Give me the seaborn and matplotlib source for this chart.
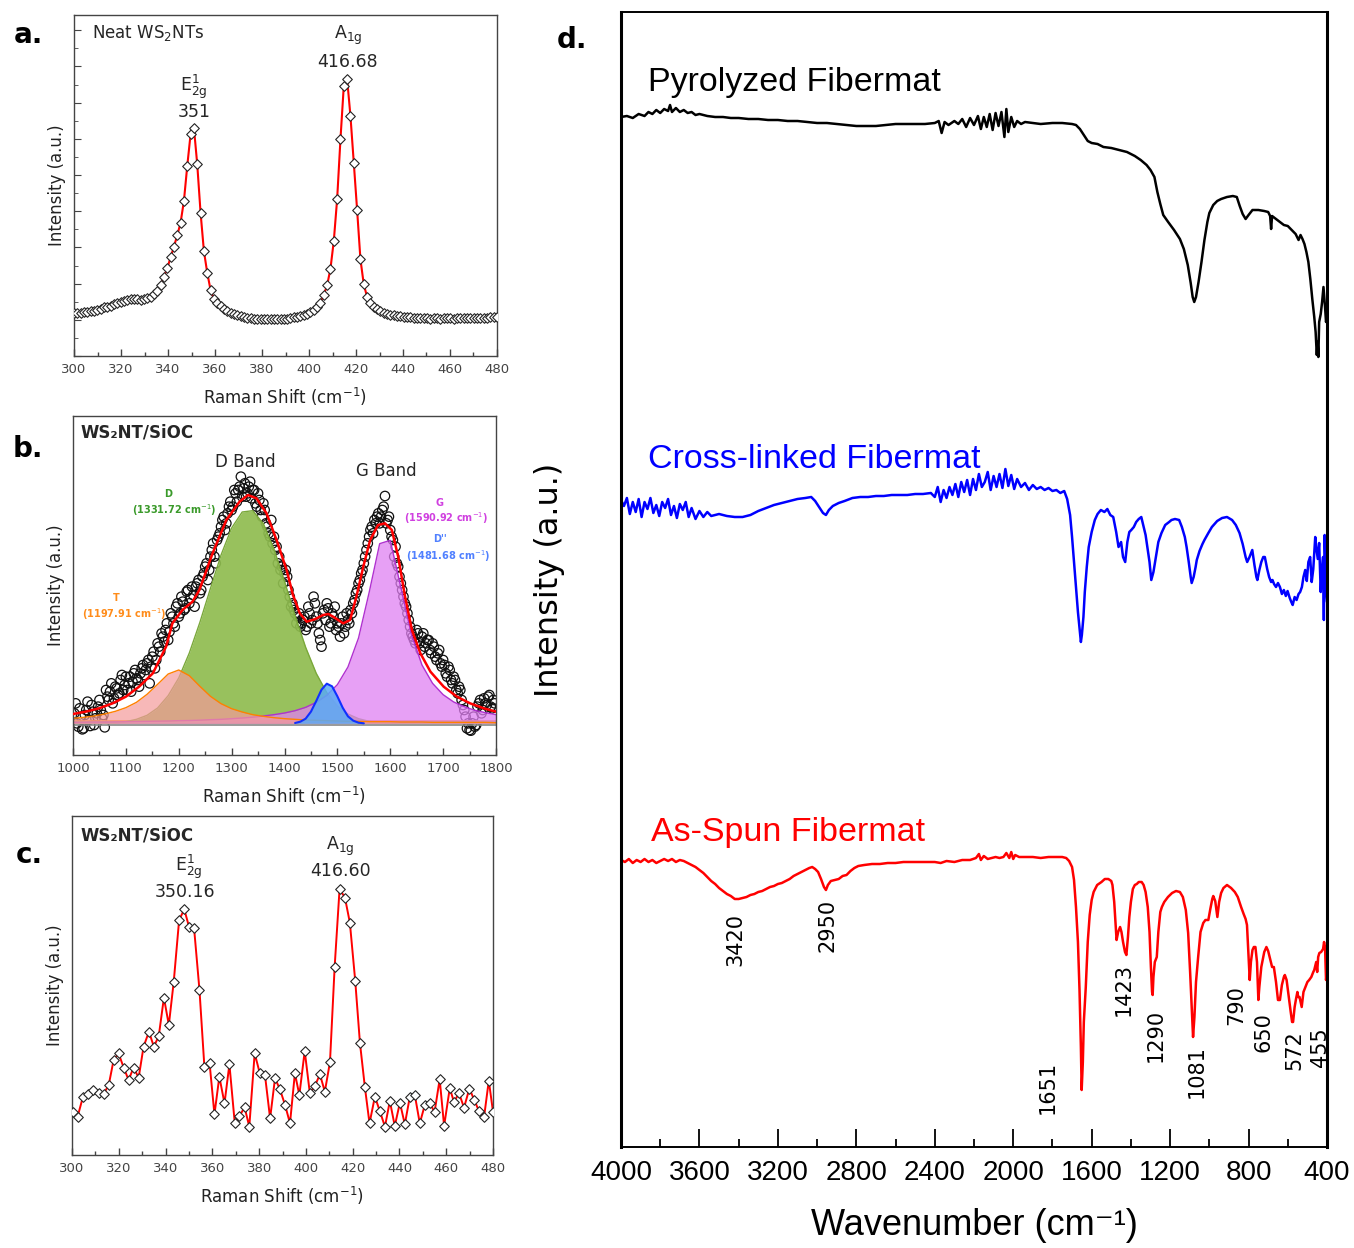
import numpy as np
import matplotlib
matplotlib.use("Agg")
import matplotlib.pyplot as plt
from matplotlib.ticker import MultipleLocator
import seaborn as sns

sns.set_style("ticks")
plt.rcParams['font.family'] = ['DejaVu Sans']
plt.rcParams['mathtext.fontset'] = 'dejavusans'
ARIAL = ['Liberation Sans', 'DejaVu Sans']

# ---------------- panel a: neat WS2NTs raman ----------------
a_shift = np.linspace(300, 480, 128)
a_int = [128, 129, 130, 131, 133, 135, 136, 138, 142, 146,
         148, 151, 155, 159, 162, 164, 167, 170, 172, 170,
         169, 171, 173, 178, 185, 195, 212, 238, 263, 296,
         328, 362, 400, 465, 570, 665, 685, 575, 430, 315,
         250, 198, 172, 160, 150, 142, 135, 130, 126, 122,
         119, 117, 114, 113, 112, 111, 110, 111, 111, 110,
         110, 111, 111, 112, 112, 114, 116, 118, 120, 123,
         127, 132, 139, 147, 160, 184, 212, 262, 345, 470,
         650, 810, 831, 720, 580, 438, 290, 215, 177, 158,
         147, 140, 134, 129, 126, 124, 122, 120, 119, 118,
         117, 116, 115, 114, 113, 113, 113, 112, 113, 113,
         112, 113, 113, 113, 112, 113, 113, 113, 114, 113,
         113, 114, 114, 115, 115, 116, 117, 118]

# ---------------- panel b: WS2NT/SiOC D and G bands ----------------
b_shift = np.arange(1005, 1800, 5)
b_int = [60, -10, 20, -15, 40, 10, 55, -5, 30, 70,
         15, -12, 80, 95, 60, 110, 85, 130, 100, 140,
         120, 95, 150, 135, 110, 165, 145, 180, 120, 200,
         165, 240, 215, 260, 280, 250, 330, 300, 350, 320,
         380, 340, 395, 360, 410, 350, 420, 390, 440, 470,
         430, 500, 540, 480, 560, 590, 620, 600, 650, 640,
         700, 665, 710, 680, 720, 690, 725, 700, 660, 690,
         640, 660, 600, 570, 610, 560, 530, 500, 470, 450,
         440, 380, 360, 330, 320, 290, 310, 280, 350, 300,
         380, 320, 270, 230, 340, 360, 290, 330, 350, 300,
         260, 320, 290, 310, 340, 360, 390, 420, 450, 480,
         520, 560, 590, 610, 620, 600, 640, 682, 610, 580,
         550, 530, 470, 420, 380, 350, 310, 270, 250, 280,
         240, 260, 230, 250, 220, 240, 200, 210, 180, 190,
         150, 170, 130, 140, 100, 110, 70, 40, -15, -20,
         0, -10, 50, 70, 40, 60, 80, 50, 70]
b_shift2 = np.arange(1002.5, 1800, 5)
b_int2 = [30, 0, 45, -18, 25, 65, -8, 35, 15, 50,
          40, 25, 100, 70, 120, 75, 105, 90, 145, 115,
          100, 140, 125, 160, 130, 150, 175, 160, 190, 170,
          215, 190, 230, 270, 245, 300, 275, 320, 290, 360,
          330, 365, 345, 400, 375, 385, 410, 430, 400, 450,
          480, 460, 520, 500, 550, 570, 610, 580, 630, 665,
          650, 690, 700, 740, 705, 680, 710, 675, 700, 650,
          670, 620, 640, 590, 560, 540, 520, 480, 460, 420,
          460, 400, 350, 340, 300, 330, 300, 320, 290, 330,
          310, 360, 300, 250, 330, 310, 345, 300, 320, 280,
          290, 300, 270, 330, 300, 330, 370, 400, 430, 460,
          500, 540, 580, 570, 600, 630, 620, 650, 600, 620,
          560, 500, 480, 440, 400, 360, 330, 290, 260, 240,
          270, 220, 270, 240, 250, 210, 230, 190, 220, 170,
          175, 140, 160, 120, 130, 90, 100, 55, 20, 0,
          -22, 20, -5, 60, 30, 75, 55, 85, 45, 60]

comp_shift = np.arange(1000, 1801, 20)
comp_T = [15, 18, 22, 28, 36, 47, 63, 87, 117, 148, 160, 143, 111, 81, 59, 44, 34, 26, 21, 17,
          14, 12, 10, 9, 8, 7, 6, 6, 5, 5, 5, 4, 4, 4, 3, 3, 3, 3, 3, 3, 2]
comp_D = [0, 0, 0, 0, 0, 5, 12, 24, 46, 83, 136, 211, 303, 405, 505, 586, 634, 638, 599, 523,
          426, 323, 228, 150, 92, 52, 28, 14, 6, 3, 1, 0, 0, 0, 0, 0, 0, 0, 0, 0, 0]
comp_G = [3, 3.5, 4, 4, 4.5, 5, 5.5, 6, 6.5, 7, 8, 8.5, 9.5, 11, 12, 14, 16, 18.5, 22, 26,
          31, 38, 48, 63, 84, 116, 169, 256, 392, 539, 549, 408, 267, 175, 120, 86, 64, 50, 39, 32, 26]
dpp_shift = np.arange(1420, 1551, 10)
comp_Dpp = [1, 5, 14, 35, 67, 101, 119, 111, 81, 47, 21, 8, 2, 0]

b_fit = [(1000, 28), (1024, 35), (1049, 45), (1075, 60), (1100, 80), (1125, 110), (1151, 150),
         (1176, 230), (1188, 300), (1207, 340), (1226, 365), (1239, 400), (1264, 510), (1290, 610),
         (1315, 665), (1331, 685), (1347, 675), (1366, 630), (1385, 550), (1404, 460), (1416, 385),
         (1429, 330), (1442, 305), (1457, 312), (1473, 325), (1483, 328), (1492, 320), (1511, 300),
         (1524, 310), (1536, 380), (1549, 470), (1562, 550), (1577, 595), (1590, 600), (1603, 580),
         (1615, 500), (1628, 380), (1641, 280), (1657, 210), (1676, 155), (1701, 110), (1726, 80),
         (1751, 60), (1777, 45), (1800, 35)]

# ---------------- panel c: WS2NT/SiOC raman ----------------
c_pts = [(300.4, 130), (302.4, 115), (304.7, 175), (306.8, 182), (309.0, 195), (311.4, 185),
         (313.5, 183), (315.7, 210), (317.8, 285), (319.9, 305), (322.1, 262), (324.2, 225),
         (326.3, 262), (328.5, 232), (330.6, 325), (332.9, 370), (335.0, 325), (337.1, 357),
         (339.3, 472), (341.4, 390), (343.5, 520), (345.8, 705), (348.0, 737), (350.1, 683),
         (352.2, 680), (354.5, 495), (356.6, 265), (358.8, 277), (360.9, 122), (363.0, 235),
         (365.2, 155), (367.3, 272), (369.6, 95), (371.6, 117), (373.8, 143), (375.8, 85),
         (378.1, 305), (380.3, 245), (382.5, 240), (384.7, 110), (386.8, 230), (388.9, 197),
         (391.1, 150), (393.2, 95), (395.3, 245), (397.2, 180), (399.5, 312), (401.7, 185),
         (403.9, 208), (406.0, 242), (408.1, 190), (410.3, 279), (412.3, 565), (414.4, 798),
         (416.7, 772), (418.8, 697), (421.1, 522), (423.1, 337), (425.2, 205), (427.2, 95),
         (429.5, 175), (431.6, 132), (433.8, 85), (435.9, 162), (438.0, 87), (440.2, 157),
         (442.3, 92), (444.4, 173), (446.6, 179), (448.7, 95), (450.8, 149), (453.0, 157),
         (455.0, 128), (457.2, 227), (459.1, 87), (461.5, 200), (463.3, 160), (465.5, 185),
         (467.6, 142), (469.9, 199), (472.0, 165), (474.0, 132), (476.2, 115), (478.2, 223),
         (480.0, 130)]

# ---------------- panel d: FTIR spectra (stacked) ----------------
pyrolyzed = [(4000, 1030), (3970, 1031), (3940, 1029), (3910, 1033), (3880, 1031), (3860, 1035),
             (3840, 1033), (3820, 1037), (3800, 1034), (3780, 1038), (3760, 1036), (3750, 1042),
             (3740, 1035), (3720, 1039), (3700, 1035), (3680, 1037), (3660, 1034), (3640, 1035),
             (3620, 1032), (3600, 1033), (3560, 1031), (3520, 1030), (3480, 1030), (3440, 1029),
             (3400, 1029), (3350, 1028), (3300, 1028), (3250, 1027), (3200, 1027), (3150, 1026),
             (3100, 1026), (3050, 1025), (3000, 1024), (2950, 1024), (2900, 1023), (2850, 1022),
             (2800, 1021), (2750, 1021), (2700, 1021), (2650, 1022), (2600, 1023), (2550, 1023),
             (2500, 1023), (2450, 1023), (2400, 1024), (2380, 1026), (2365, 1014), (2350, 1025),
             (2330, 1022), (2300, 1026), (2280, 1023), (2260, 1028), (2240, 1020), (2220, 1029),
             (2200, 1022), (2180, 1031), (2165, 1018), (2150, 1030), (2135, 1020), (2120, 1033),
             (2105, 1017), (2090, 1034), (2075, 1021), (2060, 1035), (2045, 1010), (2035, 1038),
             (2025, 1015), (2010, 1030), (1995, 1020), (1980, 1026), (1960, 1023), (1940, 1025),
             (1900, 1024), (1860, 1023), (1800, 1024), (1750, 1024), (1700, 1023), (1680, 1022),
             (1660, 1018), (1640, 1012), (1620, 1006), (1600, 1004), (1570, 1003), (1540, 1000),
             (1500, 999), (1460, 997), (1420, 995), (1380, 991), (1350, 987), (1320, 982),
             (1300, 977), (1280, 970), (1265, 955), (1250, 943), (1235, 932), (1210, 925),
             (1180, 917), (1150, 908), (1130, 898), (1110, 882), (1095, 864), (1085, 850),
             (1077, 845), (1068, 850), (1055, 865), (1040, 885), (1025, 907), (1010, 925),
             (1000, 934), (980, 942), (960, 946), (940, 948), (910, 950), (880, 951), (860, 950),
             (845, 941), (830, 933), (815, 928), (800, 932), (780, 937), (750, 937), (720, 936),
             (700, 935), (690, 931), (685, 918), (680, 931), (660, 928), (640, 925), (620, 922),
             (600, 921), (580, 917), (560, 913), (545, 907), (535, 912), (525, 908), (515, 903),
             (505, 895), (495, 885), (485, 868), (475, 848), (465, 830), (458, 815), (452, 792),
             (448, 805), (444, 790), (440, 825), (432, 833), (425, 845), (418, 860), (410, 840),
             (405, 825), (400, 830)]

cross_linked = [(4000, 647), (3985, 641), (3970, 649), (3955, 633), (3940, 645), (3925, 635),
                (3910, 648), (3895, 630), (3880, 645), (3865, 638), (3850, 649), (3835, 634),
                (3820, 642), (3805, 631), (3790, 645), (3775, 639), (3760, 648), (3745, 632),
                (3730, 641), (3715, 629), (3700, 643), (3685, 637), (3670, 645), (3655, 630),
                (3640, 639), (3620, 628), (3600, 636), (3580, 630), (3560, 635), (3540, 631),
                (3500, 633), (3460, 631), (3420, 630), (3380, 630), (3340, 632), (3300, 636),
                (3260, 639), (3220, 642), (3180, 644), (3140, 646), (3100, 648), (3060, 649),
                (3030, 650), (3010, 646), (2990, 640), (2970, 634), (2955, 632), (2940, 637),
                (2920, 641), (2890, 644), (2860, 646), (2820, 649), (2780, 650), (2740, 650),
                (2700, 651), (2660, 651), (2620, 652), (2580, 652), (2540, 652), (2500, 653),
                (2460, 653), (2420, 654), (2400, 650), (2385, 660), (2370, 645), (2355, 657),
                (2340, 649), (2325, 660), (2310, 652), (2295, 663), (2280, 650), (2265, 665),
                (2250, 655), (2235, 667), (2220, 652), (2205, 668), (2190, 657), (2175, 673),
                (2160, 660), (2145, 665), (2130, 675), (2115, 657), (2100, 671), (2085, 660),
                (2070, 673), (2055, 659), (2040, 678), (2025, 661), (2010, 672), (1995, 658),
                (1980, 668), (1960, 660), (1940, 664), (1920, 657), (1900, 662), (1880, 658),
                (1860, 660), (1840, 657), (1820, 659), (1800, 656), (1780, 657), (1760, 654),
                (1740, 656), (1725, 648), (1710, 632), (1700, 610), (1690, 585), (1680, 560),
                (1670, 535), (1660, 515), (1655, 505), (1650, 512), (1642, 530), (1635, 555),
                (1625, 580), (1615, 600), (1600, 615), (1584, 627), (1570, 633), (1553, 637),
                (1535, 635), (1520, 638), (1505, 632), (1490, 630), (1475, 615), (1463, 600),
                (1450, 605), (1440, 590), (1429, 585), (1418, 605), (1408, 615), (1398, 617),
                (1385, 620), (1373, 625), (1360, 628), (1347, 630), (1335, 620), (1325, 612),
                (1316, 600), (1305, 585), (1296, 567), (1285, 575), (1275, 587), (1260, 605),
                (1244, 614), (1225, 622), (1205, 625), (1193, 627), (1175, 628), (1154, 627),
                (1140, 620), (1125, 610), (1116, 600), (1105, 585), (1095, 570), (1090, 564),
                (1080, 570), (1070, 580), (1064, 587), (1050, 596), (1035, 603), (1025, 607),
                (1005, 614), (987, 620), (960, 626), (935, 629), (910, 630), (884, 627),
                (865, 622), (846, 614), (830, 603), (815, 590), (807, 585), (795, 590),
                (781, 597), (770, 582), (760, 570), (755, 567), (745, 577), (735, 585),
                (725, 590), (717, 590), (705, 578), (695, 570), (685, 565), (678, 567),
                (670, 563), (660, 560), (650, 564), (640, 560), (630, 553), (620, 557),
                (610, 551), (601, 556), (590, 549), (582, 545), (575, 542), (565, 550),
                (555, 547), (545, 553), (537, 555), (528, 560), (520, 570), (511, 577),
                (503, 566), (495, 585), (486, 590), (478, 565), (470, 578), (460, 610),
                (455, 600), (447, 588), (440, 604), (432, 555), (427, 575), (420, 590),
                (416, 527), (412, 612), (408, 585), (404, 555), (400, 545)]

as_spun = [(4000, 287), (3980, 285), (3960, 288), (3940, 284), (3920, 287), (3900, 285),
           (3880, 288), (3860, 285), (3840, 287), (3820, 284), (3800, 286), (3780, 288),
           (3760, 286), (3740, 288), (3720, 285), (3700, 287), (3680, 286), (3660, 284),
           (3640, 282), (3620, 280), (3600, 277), (3580, 274), (3560, 270), (3540, 266),
           (3520, 263), (3500, 259), (3480, 256), (3460, 253), (3440, 251), (3420, 248),
           (3400, 248), (3380, 249), (3360, 250), (3340, 252), (3320, 253), (3300, 255),
           (3280, 256), (3260, 258), (3240, 260), (3220, 261), (3200, 263), (3180, 264),
           (3160, 266), (3140, 268), (3120, 271), (3100, 273), (3080, 275), (3060, 277),
           (3040, 279), (3025, 280), (3010, 278), (2995, 275), (2980, 268), (2965, 260),
           (2955, 257), (2945, 262), (2930, 266), (2910, 267), (2890, 268), (2870, 271),
           (2850, 272), (2830, 276), (2810, 279), (2790, 281), (2760, 282), (2720, 283),
           (2680, 283), (2640, 284), (2600, 284), (2560, 285), (2520, 285), (2480, 285),
           (2440, 285), (2400, 285), (2370, 284), (2340, 286), (2300, 285), (2260, 287),
           (2220, 287), (2190, 289), (2175, 293), (2165, 287), (2150, 291), (2130, 288),
           (2110, 289), (2090, 290), (2070, 289), (2050, 290), (2035, 294), (2020, 289),
           (2010, 295), (2000, 288), (1990, 292), (1970, 290), (1940, 290), (1900, 290),
           (1860, 289), (1820, 290), (1780, 290), (1750, 290), (1730, 289), (1715, 286),
           (1700, 280), (1690, 267), (1680, 240), (1670, 205), (1662, 157), (1655, 100),
           (1651, 57), (1645, 85), (1640, 125), (1630, 160), (1620, 205), (1610, 232),
           (1600, 247), (1590, 255), (1572, 262), (1550, 265), (1533, 268), (1515, 268),
           (1500, 266), (1494, 262), (1485, 245), (1473, 207), (1465, 215), (1455, 220),
           (1448, 215), (1440, 205), (1430, 195), (1423, 192), (1415, 210), (1408, 230),
           (1400, 245), (1390, 258), (1380, 262), (1370, 263), (1360, 265), (1345, 265),
           (1335, 262), (1325, 255), (1314, 240), (1305, 215), (1298, 180), (1292, 155),
           (1289, 152), (1285, 170), (1278, 185), (1268, 190), (1260, 215), (1250, 235),
           (1242, 240), (1230, 245), (1211, 250), (1190, 254), (1170, 256), (1150, 255),
           (1135, 250), (1120, 237), (1108, 214), (1098, 175), (1090, 140), (1083, 110),
           (1076, 130), (1068, 165), (1057, 190), (1045, 215), (1031, 224), (1020, 227),
           (1005, 227), (995, 238), (985, 248), (980, 251), (970, 246), (959, 230),
           (950, 245), (940, 254), (928, 259), (910, 262), (889, 259), (870, 255),
           (855, 250), (838, 240), (825, 233), (815, 228), (808, 222), (800, 190),
           (794, 167), (788, 185), (780, 197), (773, 200), (765, 200), (757, 185),
           (750, 147), (745, 160), (735, 180), (720, 195), (709, 200), (700, 196),
           (690, 188), (680, 180), (671, 180), (660, 165), (650, 147), (640, 147),
           (630, 162), (620, 170), (615, 172), (606, 167), (595, 150), (585, 135),
           (578, 125), (573, 125), (565, 140), (558, 148), (551, 155), (547, 150),
           (540, 150), (529, 140), (520, 155), (510, 160), (500, 165), (491, 167),
           (480, 170), (470, 175), (465, 177), (455, 185), (450, 175), (445, 190),
           (439, 194), (430, 195), (420, 198), (415, 205), (410, 200), (405, 167),
           (400, 175)]

peak_labels = [("3420", 3419, 207), ("2950", 2945, 222), ("1651", 1823, 60),
               ("1423", 1435, 157), ("1290", 1272, 112), ("1081", 1063, 75),
               ("790", 864, 142), ("650", 726, 115), ("572", 568, 97), ("455", 436, 100)]

W, H = 1354, 1248
fig = plt.figure(figsize=(W / 100, H / 100), dpi=100)


def box(l, t, r, b):
    return [l / W, 1 - b / H, (r - l) / W, (b - t) / H]


def raman_style(ax, xmaj, xmin):
    for s in ax.spines.values():
        s.set_color('#444444')
        s.set_linewidth(1.0)
    ax.xaxis.set_major_locator(MultipleLocator(xmaj))
    ax.xaxis.set_minor_locator(MultipleLocator(xmin))
    ax.tick_params(axis='x', which='both', direction='in', colors='#444444',
                   labelsize=9.5, pad=5, top=False)
    ax.tick_params(axis='x', which='major', length=5, width=1)
    ax.tick_params(axis='x', which='minor', length=3, width=1)
    ax.set_xlabel("Raman Shift (cm$^{-1}$)", fontsize=12, labelpad=7, color='#222222')
    ax.set_ylabel("Intensity (a.u.)", fontsize=12, labelpad=6, color='#222222')


# ---- a ----
ax = fig.add_axes(box(74, 15, 497, 356))
xa = np.asarray(a_shift)
ya = np.asarray(a_int)
for lo, hi in [(331, 361), (403, 427)]:
    m = (xa >= lo) & (xa <= hi)
    sns.lineplot(x=xa[m], y=ya[m], ax=ax, color='#ff0000', lw=1.5, estimator=None, zorder=2)
sns.scatterplot(x=xa, y=ya, ax=ax, marker='D', s=24, facecolor='white',
                edgecolor='#222222', linewidth=0.8, zorder=3)
ax.set_xlim(300, 480)
ax.set_ylim(0, 1023)
ax.yaxis.set_major_locator(MultipleLocator(108.6))
ax.yaxis.set_minor_locator(MultipleLocator(54.3))
ax.tick_params(axis='y', which='both', direction='in', labelleft=False, right=False, colors='#444444')
ax.tick_params(axis='y', which='major', length=5)
ax.tick_params(axis='y', which='minor', length=3)
raman_style(ax, 20, 10)
ax.text(307.5, 968, "Neat WS$_2$NTs", fontsize=12, ha='left', va='center')
ax.text(351, 807, r"$\mathrm{E}^{1}_{\mathrm{2g}}$", fontsize=12.5, ha='center', va='center')
ax.text(351, 732, "351", fontsize=12.5, ha='center', va='center')
ax.text(416.5, 963, r"$\mathrm{A}_{\mathrm{1g}}$", fontsize=12.5, ha='center', va='center')
ax.text(416.5, 883, "416.68", fontsize=12.5, ha='center', va='center')

# ---- b ----
ax = fig.add_axes(box(73, 416, 496, 755))
for bx, by in [(b_shift, b_int), (b_shift2, b_int2)]:
    sns.scatterplot(x=bx, y=by, ax=ax, marker='o', s=46, facecolor='none',
                    edgecolor='#111111', linewidth=0.9, zorder=1)
for val, c in [(6, '#ff8a1a'), (4, '#8db34a'), (2, '#a040d8'), (0, '#3050ff'), (-5, '#888888')]:
    ax.axhline(val, color=c, lw=1.2, zorder=2)
ax.fill_between(comp_shift, 0, comp_D, color='#8fbc4f', alpha=0.92, lw=0, zorder=2)
sns.lineplot(x=comp_shift, y=comp_D, ax=ax, color='#7aa83a', lw=1.0, estimator=None, zorder=2)
ax.fill_between(comp_shift, 0, comp_G, color='#e080f2', alpha=0.75, lw=0, zorder=2)
sns.lineplot(x=comp_shift, y=comp_G, ax=ax, color='#b030d0', lw=1.0, estimator=None, zorder=2)
ax.fill_between(comp_shift, 0, comp_T, color='#f49a9a', alpha=0.7, lw=0, zorder=2)
sns.lineplot(x=comp_shift, y=comp_T, ax=ax, color='#ff8000', lw=1.0, estimator=None, zorder=2)
ax.fill_between(dpp_shift, 0, comp_Dpp, color='#5aaaf5', alpha=0.85, lw=0, zorder=2)
sns.lineplot(x=dpp_shift, y=comp_Dpp, ax=ax, color='#1030ff', lw=1.5, estimator=None, zorder=2)
fx, fy = zip(*b_fit)
sns.lineplot(x=fx, y=fy, ax=ax, color='#ff0000', lw=1.8, estimator=None, zorder=3)
ax.set_xlim(1000, 1800)
ax.set_ylim(-95, 922)
ax.set_yticks([])
raman_style(ax, 100, 50)
ax.text(1014.5, 872, "WS₂NT/SiOC", fontsize=12, fontweight='bold', ha='left', va='center')
ax.text(1326, 785, "D Band", fontsize=12, ha='center', va='center')
ax.text(1593, 757, "G Band", fontsize=12, ha='center', va='center')
small = dict(fontsize=7, fontweight='bold', ha='center', va='center')
ax.text(1179, 687, "D", color='#3a9a2a', **small)
ax.text(1192, 640, "(1331.72 cm$^{-1}$)", color='#3a9a2a', **small)
ax.text(1693, 662, "G", color='#d040e0', **small)
ax.text(1705, 615, "(1590.92 cm$^{-1}$)", color='#d040e0', **small)
ax.text(1694, 552, "D''", color='#5080ff', **small)
ax.text(1709, 503, "(1481.68 cm$^{-1}$)", color='#5080ff', **small)
ax.text(1081, 375, "T", color='#ff8c1a', **small)
ax.text(1097, 328, "(1197.91 cm$^{-1}$)", color='#ff8c1a', **small)

# ---- c ----
ax = fig.add_axes(box(72, 816, 493, 1155))
cx, cy = zip(*c_pts)
sns.lineplot(x=cx, y=cy, ax=ax, color='#ff0000', lw=1.4, estimator=None, zorder=2)
sns.scatterplot(x=cx, y=cy, ax=ax, marker='D', s=24, facecolor='white',
                edgecolor='#222222', linewidth=0.8, zorder=3)
ax.set_xlim(300, 480)
ax.set_ylim(0, 1017)
ax.set_yticks([])
raman_style(ax, 20, 10)
ax.text(303.6, 960, "WS₂NT/SiOC", fontsize=12, fontweight='bold', ha='left', va='center')
ax.text(349.8, 865, r"$\mathrm{E}^{1}_{\mathrm{2g}}$", fontsize=12.5, ha='center', va='center')
ax.text(348.1, 790, "350.16", fontsize=12.5, ha='center', va='center')
ax.text(414.5, 925, r"$\mathrm{A}_{\mathrm{1g}}$", fontsize=12.5, ha='center', va='center')
ax.text(414.8, 852, "416.60", fontsize=12.5, ha='center', va='center')

# ---- d ----
ax = fig.add_axes(box(621, 12, 1327, 1147))
for data, col in [(pyrolyzed, 'black'), (cross_linked, '#0000ff'), (as_spun, '#ff0000')]:
    wx, wy = zip(*data)
    sns.lineplot(x=wx, y=wy, ax=ax, color=col, lw=1.8, sort=False, estimator=None)
ax.set_xlim(4000, 400)
ax.set_ylim(0, 1135)
ax.set_yticks([])
ticks = [4000, 3600, 3200, 2800, 2400, 2000, 1600, 1200, 800, 400]
ax.set_xticks(ticks)
ax.set_xticklabels([str(t) for t in ticks], fontfamily=ARIAL, fontsize=20, color='black')
ax.xaxis.set_minor_locator(MultipleLocator(200))
ax.tick_params(axis='x', which='both', direction='in', top=False, pad=9, width=1.3, color='black')
ax.tick_params(axis='x', which='major', length=13)
ax.tick_params(axis='x', which='minor', length=6)
for side, lw in [('left', 2.2), ('right', 2.2), ('top', 1.4), ('bottom', 1.4)]:
    ax.spines[side].set_linewidth(lw)
    ax.spines[side].set_color('black')
ax.set_xlabel("Wavenumber (cm⁻¹)", fontsize=26, fontfamily=ARIAL, labelpad=16, color='black')
ax.set_ylabel("Intensity (a.u.)", fontsize=23, labelpad=40, color='black')
ax.text(3862, 1064, "Pyrolyzed Fibermat", fontsize=24.5, fontfamily=ARIAL, color='black', va='center')
ax.text(3862, 687, "Cross-linked Fibermat", fontsize=24.5, fontfamily=ARIAL, color='#0000ff', va='center')
ax.text(3847, 315, "As-Spun Fibermat", fontsize=24.5, fontfamily=ARIAL, color='#ff0000', va='center')
for lab, px, py in peak_labels:
    ax.text(px, py, lab, fontsize=15, rotation=90, ha='center', va='center', color='black')

# panel letters
for lab, px, py in [("a.", 28, 35), ("b.", 28, 449), ("c.", 29, 855), ("d.", 572, 40)]:
    fig.text(px / W, 1 - py / H, lab, fontsize=20, fontweight='bold', ha='center', va='center', color='black')

fig.savefig("out.png", dpi=100)
